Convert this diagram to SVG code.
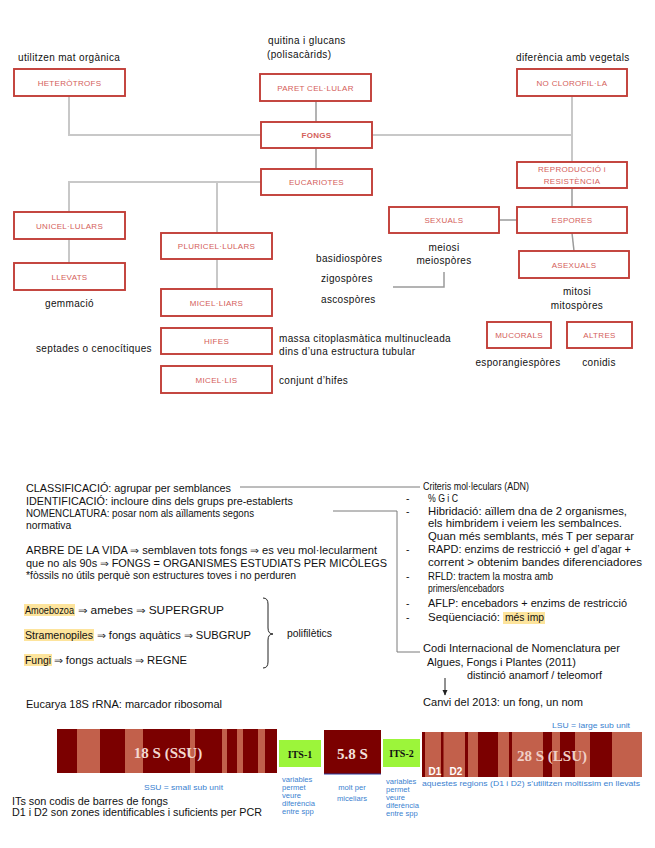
<svg xmlns="http://www.w3.org/2000/svg" width="655" height="848" viewBox="0 0 655 848">
<defs>
<style>
.bx{fill:#fff;stroke:#c23e38;stroke-width:1.9}
.bt{font-family:"Liberation Sans",Arial,sans-serif;font-size:8px;fill:#d4605a;text-anchor:middle;letter-spacing:0.3px}
.lb{font-family:"Liberation Sans",Arial,sans-serif;font-size:10px;fill:#111;letter-spacing:0.35px}
.lc{text-anchor:middle}
.c1{fill:none;stroke:#c8c8c8;stroke-width:2}
.c2{fill:none;stroke:#9a9a9a;stroke-width:1.5}
.c3{fill:none;stroke:#7a7a7a;stroke-width:1}
.tx{font-family:"Liberation Sans",Arial,sans-serif;font-size:10.3px;fill:#111}
.hl{fill:#fde49c}
.dk{fill:#7b0000}
.lt{fill:#c2604b}
.gr{fill:#9cf53a}
.bs{font-family:"Liberation Serif","Times New Roman",serif;font-weight:bold}
.bl{font-family:"Liberation Sans",Arial,sans-serif;font-size:7.6px;fill:#3a7fd0}
</style>
<marker id="ah" markerWidth="6" markerHeight="6" refX="5" refY="3" orient="auto" markerUnits="userSpaceOnUse">
<path d="M0,0.5 L5.5,3 L0,5.5 Z" fill="#222"/>
</marker>
</defs>
<rect width="655" height="848" fill="#fff"/>

<g id="connectors">
<polyline class="c1" points="69,96 69,135 261,135"/>
<line class="c2" x1="316" y1="101" x2="316" y2="122"/>
<line class="c2" x1="316" y1="148" x2="316" y2="169"/>
<line class="c1" x1="372" y1="135" x2="572" y2="135"/>
<line class="c1" x1="572" y1="96" x2="572" y2="162"/>
<polyline class="c1" points="261,182 69,182 69,212"/>
<line class="c1" x1="217" y1="182" x2="217" y2="233"/>
<line class="c1" x1="69" y1="239" x2="69" y2="263"/>
<line class="c1" x1="217" y1="259" x2="217" y2="289"/>
<line class="c2" x1="572" y1="188" x2="572" y2="207" stroke="#777"/>
<line class="c2" x1="499" y1="220" x2="517" y2="220"/>
<line class="c2" x1="572" y1="233" x2="574" y2="251"/>
<polyline class="c2" points="393,287 444,287 444,272"/>
<line class="c3" x1="240" y1="487" x2="420" y2="487"/>
<polyline class="c3" points="333,511 397,511 397,652 420,652"/>
<line x1="445" y1="678" x2="445" y2="695" stroke="#222" stroke-width="1" marker-end="url(#ah)"/>
</g>

<g id="n-heterotrofs"><rect class="bx" x="14" y="69" width="111" height="27"/><text class="bt" x="69.5" y="85.5">HETERÒTROFS</text></g>
<g id="n-paret"><rect class="bx" x="260" y="74" width="111" height="27"/><text class="bt" x="315.5" y="90.5">PARET CEL·LULAR</text></g>
<g id="n-fongs"><rect class="bx" x="261" y="122" width="111" height="26"/><text class="bt" x="316.5" y="138" font-weight="bold">FONGS</text></g>
<g id="n-eucariotes"><rect class="bx" x="261" y="169" width="111" height="26"/><text class="bt" x="316.5" y="185">EUCARIOTES</text></g>
<g id="n-noclorofil"><rect class="bx" x="517" y="69" width="110" height="27"/><text class="bt" x="572" y="85.5">NO CLOROFIL·LA</text></g>
<g id="n-reproduccio"><rect class="bx" x="517" y="162" width="110" height="26"/><text class="bt" x="572" y="172">REPRODUCCIÓ i</text><text class="bt" x="572" y="184">RESISTÈNCIA</text></g>
<g id="n-unicel"><rect class="bx" x="14" y="212" width="111" height="27"/><text class="bt" x="69.5" y="228.5">UNICEL·LULARS</text></g>
<g id="n-llevats"><rect class="bx" x="14" y="263" width="111" height="27"/><text class="bt" x="69.5" y="279.5">LLEVATS</text></g>
<g id="n-pluricel"><rect class="bx" x="161" y="233" width="111" height="26"/><text class="bt" x="216.5" y="249">PLURICEL·LULARS</text></g>
<g id="n-miceliars"><rect class="bx" x="161" y="289" width="111" height="27"/><text class="bt" x="216.5" y="305.5">MICEL·LIARS</text></g>
<g id="n-hifes"><rect class="bx" x="161" y="328" width="111" height="26"/><text class="bt" x="216.5" y="344">HIFES</text></g>
<g id="n-micelis"><rect class="bx" x="161" y="366" width="111" height="27"/><text class="bt" x="216.5" y="382.5">MICEL·LIS</text></g>
<g id="n-sexuals"><rect class="bx" x="389" y="207" width="110" height="26"/><text class="bt" x="444" y="223">SEXUALS</text></g>
<g id="n-espores"><rect class="bx" x="517" y="207" width="110" height="26"/><text class="bt" x="572" y="223">ESPORES</text></g>
<g id="n-asexuals"><rect class="bx" x="519" y="251" width="110" height="27"/><text class="bt" x="574" y="267.5">ASEXUALS</text></g>
<g id="n-mucorals"><rect class="bx" x="487" y="322" width="64" height="26"/><text class="bt" x="519" y="338">MUCORALS</text></g>
<g id="n-altres"><rect class="bx" x="567" y="322" width="65" height="26"/><text class="bt" x="599.5" y="338">ALTRES</text></g>

<g id="labels-top">
<text class="lb" x="18" y="60.5">utilitzen mat orgànica</text>
<text class="lb" x="268" y="43.5">quitina i glucans</text>
<text class="lb" x="267" y="57.5">(polisacàrids)</text>
<text class="lb" x="516" y="60.5">diferència amb vegetals</text>
<text class="lb" x="45" y="306.5">gemmació</text>
<text class="lb" x="36" y="351.5">septades o cenocítiques</text>
<text class="lb" x="279" y="341.5">massa citoplasmàtica multinucleada</text>
<text class="lb" x="279" y="354.5">dins d’una estructura tubular</text>
<text class="lb" x="279" y="383.5">conjunt d’hifes</text>
<text class="lb" x="316" y="261.5">basidiospòres</text>
<text class="lb" x="321" y="281.5">zigospòres</text>
<text class="lb" x="321" y="302.5">ascospòres</text>
<text class="lb lc" x="444" y="250.5">meiosi</text>
<text class="lb lc" x="444" y="263.5">meiospòres</text>
<text class="lb lc" x="577" y="294.5">mitosi</text>
<text class="lb lc" x="577" y="308.5">mitospòres</text>
<text class="lb lc" x="518" y="365.5">esporangiespòres</text>
<text class="lb lc" x="599" y="365.5">conidis</text>
</g>

<g id="notes-left">
<text class="tx" x="26" y="491.5" textLength="205" lengthAdjust="spacingAndGlyphs">CLASSIFICACIÓ: agrupar per semblances</text>
<text class="tx" x="26" y="504.5" textLength="267" lengthAdjust="spacingAndGlyphs">IDENTIFICACIÓ: incloure dins dels grups pre-establerts</text>
<text class="tx" x="26" y="516.5" textLength="228" lengthAdjust="spacingAndGlyphs">NOMENCLATURA: posar nom als aïllaments segons</text>
<text class="tx" x="26" y="528.5">normativa</text>
<text class="tx" x="26" y="554" textLength="351" lengthAdjust="spacingAndGlyphs">ARBRE DE LA VIDA ⇒ semblaven tots fongs ⇒ es veu mol·lecularment</text>
<text class="tx" x="26" y="566.5" textLength="361" lengthAdjust="spacingAndGlyphs">que no als 90s ⇒ FONGS = ORGANISMES ESTUDIATS PER MICÒLEGS</text>
<text class="tx" x="26" y="579" textLength="270" lengthAdjust="spacingAndGlyphs">*fòssils no útils perquè son estructures toves i no perduren</text>
<rect class="hl" x="24" y="604" width="51" height="12"/>
<rect class="hl" x="24" y="629" width="70" height="12"/>
<rect class="hl" x="24" y="654" width="28" height="12"/>
<text class="tx" x="25" y="613.5" textLength="49" lengthAdjust="spacingAndGlyphs">Amoebozoa</text>
<text class="tx" x="78" y="613.5" textLength="146" lengthAdjust="spacingAndGlyphs">⇒ amebes ⇒ SUPERGRUP</text>
<text class="tx" x="25" y="638.5" textLength="68" lengthAdjust="spacingAndGlyphs">Stramenopiles</text>
<text class="tx" x="97" y="638.5" textLength="154" lengthAdjust="spacingAndGlyphs">⇒ fongs aquàtics ⇒ SUBGRUP</text>
<text class="tx" x="25" y="663.5" textLength="26" lengthAdjust="spacingAndGlyphs">Fungi</text>
<text class="tx" x="54" y="663.5" textLength="133" lengthAdjust="spacingAndGlyphs">⇒ fongs actuals ⇒ REGNE</text>
<path d="M263,598 Q268,598 268,604 L268,628 Q268,634 273,634 Q268,634 268,640 L268,662 Q268,668 263,668" fill="none" stroke="#222" stroke-width="1"/>
<text class="tx" x="287" y="637" textLength="45" lengthAdjust="spacingAndGlyphs">polifilètics</text>
<text class="tx" x="26" y="708" textLength="196" lengthAdjust="spacingAndGlyphs">Eucarya 18S rRNA: marcador ribosomal</text>
</g>

<g id="notes-right">
<text class="tx" x="423" y="489.5" textLength="106" lengthAdjust="spacingAndGlyphs">Criteris mol·leculars (ADN)</text>
<text class="tx" x="406" y="501.5">-</text>
<text class="tx" x="428" y="501.5" textLength="30" lengthAdjust="spacingAndGlyphs">% G i C</text>
<text class="tx" x="406" y="514.5">-</text>
<text class="tx" x="428" y="514.5" textLength="199" lengthAdjust="spacingAndGlyphs">Hibridació: aïllem dna de 2 organismes,</text>
<text class="tx" x="428" y="527" textLength="194" lengthAdjust="spacingAndGlyphs">els himbridem i veiem les sembalnces.</text>
<text class="tx" x="428" y="539.5" textLength="206" lengthAdjust="spacingAndGlyphs">Quan més semblants, més T per separar</text>
<text class="tx" x="406" y="552.5">-</text>
<text class="tx" x="428" y="552.5" textLength="203" lengthAdjust="spacingAndGlyphs">RAPD: enzims de restricció + gel d’agar +</text>
<text class="tx" x="428" y="565.5" textLength="214" lengthAdjust="spacingAndGlyphs">corrent &gt; obtenim bandes diferenciadores</text>
<text class="tx" x="406" y="579.5">-</text>
<text class="tx" x="428" y="579.5" textLength="125" lengthAdjust="spacingAndGlyphs">RFLD: tractem la mostra amb</text>
<text class="tx" x="428" y="592" textLength="76" lengthAdjust="spacingAndGlyphs">primers/encebadors</text>
<text class="tx" x="406" y="606.5">-</text>
<text class="tx" x="428" y="606.5" textLength="199" lengthAdjust="spacingAndGlyphs">AFLP: encebadors + enzims de restricció</text>
<rect class="hl" x="503" y="612" width="42" height="12"/>
<text class="tx" x="406" y="621">-</text>
<text class="tx" x="428" y="621" textLength="72" lengthAdjust="spacingAndGlyphs">Seqüenciació:</text>
<text class="tx" x="505" y="621" textLength="39" lengthAdjust="spacingAndGlyphs">més imp</text>
<text class="tx" x="423" y="651.5" textLength="197" lengthAdjust="spacingAndGlyphs">Codi Internacional de Nomenclatura per</text>
<text class="tx" x="427" y="665.5" textLength="149" lengthAdjust="spacingAndGlyphs">Algues, Fongs i Plantes (2011)</text>
<text class="tx" x="467" y="678.5" textLength="135" lengthAdjust="spacingAndGlyphs">distinció anamorf / teleomorf</text>
<text class="tx" x="423" y="705.5" textLength="160" lengthAdjust="spacingAndGlyphs">Canvi del 2013: un fong, un nom</text>
</g>

<g id="rrna-bar">
<rect class="dk" x="57" y="729" width="220" height="44"/>
<rect class="lt" x="77" y="729" width="23" height="44"/>
<rect class="lt" x="125" y="729" width="18" height="44"/>
<rect class="lt" x="190" y="729" width="5" height="44"/>
<rect class="lt" x="222" y="729" width="5" height="44"/>
<rect class="lt" x="237" y="729" width="6" height="44"/>
<rect class="lt" x="258" y="729" width="7" height="44"/>
<text class="bs" x="168" y="758" font-size="15" fill="#f3d8d0" text-anchor="middle">18 S (SSU)</text>
<rect class="gr" x="279" y="740" width="42" height="27"/>
<text class="bs" x="300" y="757.5" font-size="10" fill="#111" text-anchor="middle">ITS-1</text>
<rect class="dk" x="324" y="730" width="57" height="44"/>
<line x1="324" y1="774" x2="381" y2="774" stroke="#2a3a9a" stroke-width="1.2"/>
<text class="bs" x="352.5" y="759" font-size="15" fill="#f3e0dc" text-anchor="middle">5.8 S</text>
<rect class="gr" x="383" y="739" width="37" height="28"/>
<text class="bs" x="401.5" y="756.5" font-size="10" fill="#111" text-anchor="middle">ITS-2</text>
<rect class="lt" x="422" y="732" width="220" height="45"/>
<rect class="dk" x="422" y="732" width="3" height="45"/>
<rect class="dk" x="441" y="732" width="2.5" height="45"/>
<rect class="dk" x="465" y="732" width="3" height="45"/>
<rect class="dk" x="478" y="732" width="20" height="45"/>
<rect class="dk" x="509" y="732" width="3" height="45"/>
<rect class="dk" x="543" y="732" width="9" height="45"/>
<rect class="dk" x="560" y="732" width="15" height="45"/>
<rect class="dk" x="590" y="732" width="22" height="45"/>
<text class="bs" x="552" y="761" font-size="15" fill="#f0cfc6" text-anchor="middle">28 S (LSU)</text>
<text x="435" y="774.5" font-family="'Liberation Sans',Arial,sans-serif" font-size="10" font-weight="bold" fill="#fff" text-anchor="middle">D1</text>
<text x="456" y="774.5" font-family="'Liberation Sans',Arial,sans-serif" font-size="10" font-weight="bold" fill="#fff" text-anchor="middle">D2</text>
<text class="bl" x="552" y="728" textLength="78" lengthAdjust="spacingAndGlyphs">LSU = large sub unit</text>
<text class="bl" x="144" y="790" textLength="79" lengthAdjust="spacingAndGlyphs">SSU = small sub unit</text>
<text class="bl" x="282" y="781.5">variables</text>
<text class="bl" x="282" y="789.5">permet</text>
<text class="bl" x="282" y="797.5">veure</text>
<text class="bl" x="282" y="805.5">diferència</text>
<text class="bl" x="282" y="813.5">entre spp</text>
<text class="bl" x="352" y="790" text-anchor="middle">molt per</text>
<text class="bl" x="352" y="800.5" text-anchor="middle">miceliars</text>
<text class="bl" x="386" y="783.5">variables</text>
<text class="bl" x="386" y="791.5">permet</text>
<text class="bl" x="386" y="799.5">veure</text>
<text class="bl" x="386" y="807.5">diferència</text>
<text class="bl" x="386" y="815.5">entre spp</text>
<text class="bl" x="422" y="786" textLength="218" lengthAdjust="spacingAndGlyphs">aquestes regions (D1 i D2)  s’utilitzen moltíssim en llevats</text>
<text class="tx" x="12" y="804.5" textLength="156" lengthAdjust="spacingAndGlyphs">ITs son codis de barres de fongs</text>
<text class="tx" x="12" y="816" textLength="250" lengthAdjust="spacingAndGlyphs">D1 i D2 son zones identificables i suficients per PCR</text>
</g>
</svg>
